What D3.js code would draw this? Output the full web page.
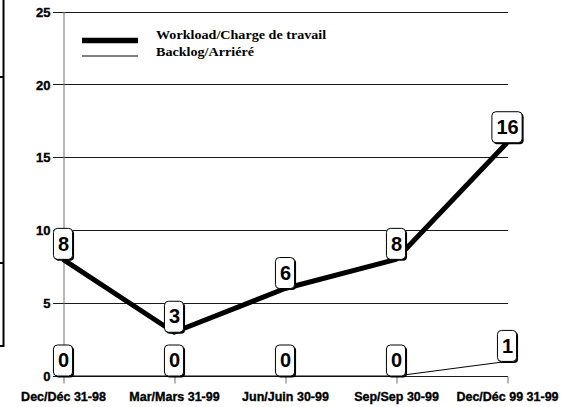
<!DOCTYPE html>
<html>
<head>
<meta charset="utf-8">
<script src="https://cdn.jsdelivr.net/npm/d3@7"></script>
<style>
  html, body { margin: 0; padding: 0; background: #fff; }
  svg { display: block; }
</style>
</head>
<body>
<svg id="chart" width="580" height="407"></svg>
<script>
// Quarter-end dates
const categories = ["Dec/Déc 31-98", "Mar/Mars 31-99", "Jun/Juin 30-99", "Sep/Sep 30-99", "Dec/Déc 99 31-99"];
// Series values
const workload = [8, 3, 6, 8, 16];
const backlog = [0, 0, 0, 0, 1];
// Y axis ticks
const yTicks = [0, 5, 10, 15, 20, 25];
const seriesNames = ["Workload/Charge de travail", "Backlog/Arriéré"];

const svg = d3.select("#chart");

const x = d3.scalePoint().domain(categories).range([63, 507]);
const y = d3.scaleLinear().domain([0, 25]).range([376, 11.5]);

// Fragment of neighbouring frame on the left edge
const edge = svg.append("g").attr("stroke", "#000").attr("fill", "none");
edge.append("path").attr("d", "M3.5,-2V346H-2").attr("stroke-width", 2);
edge.append("path").attr("d", "M0,77H3M0,263H3").attr("stroke-width", 2);

// Horizontal gridlines
svg.append("g")
  .selectAll("line")
  .data(yTicks)
  .join("line")
  .attr("x1", 53).attr("x2", 508)
  .attr("y1", d => Math.round(y(d)) + 0.5)
  .attr("y2", d => Math.round(y(d)) + 0.5)
  .attr("stroke", "#1a1a1a")
  .attr("stroke-width", 1);

// Y axis
const yAxis = svg.append("g")
  .attr("transform", "translate(63.5,0)")
  .call(d3.axisLeft(y).tickValues(yTicks).tickSize(0).tickPadding(13));
yAxis.select(".domain").attr("stroke", "#6e6e6e");
yAxis.selectAll("text")
  .attr("font-family", "Liberation Sans, Arial, sans-serif")
  .attr("font-weight", "bold")
  .attr("font-size", 13)
  .attr("fill", "#000")
  .attr("stroke", "#000")
  .attr("stroke-width", 0.35)
  .attr("dy", "0.36em");

// X axis
const xAxis = svg.append("g")
  .attr("transform", "translate(0,376.5)")
  .call(d3.axisBottom(x).tickSize(7).tickPadding(6).tickSizeOuter(0));
xAxis.select(".domain").remove();
xAxis.selectAll(".tick line").attr("stroke", "#6e6e6e").attr("transform", "translate(0.5,0)");
xAxis.selectAll("text")
  .attr("font-family", "Liberation Sans, Arial, sans-serif")
  .attr("font-weight", "bold")
  .attr("font-size", 12.5)
  .attr("fill", "#000")
  .attr("stroke", "#000")
  .attr("stroke-width", 0.35)
  .attr("dy", "0.9em");

// Lines
const line = d3.line()
  .x((d, i) => x(categories[i]))
  .y(d => y(d));

svg.append("path")
  .datum(backlog)
  .attr("d", line)
  .attr("fill", "none")
  .attr("stroke", "#000")
  .attr("stroke-width", 1);

svg.append("path")
  .datum(workload)
  .attr("d", line)
  .attr("fill", "none")
  .attr("stroke", "#000")
  .attr("stroke-width", 5)
  .attr("stroke-linejoin", "round")
  .attr("stroke-linecap", "butt");

// Value labels in rounded boxes sitting on each point
function drawLabels(values) {
  values.forEach((v, i) => {
    const cx = x(categories[i]);
    const by = y(v);
    const g = svg.append("g");
    const shadow = g.append("rect");
    const box = g.append("rect");
    const t = g.append("text")
      .attr("x", cx + 0.5)
      .attr("y", by - 16)
      .attr("text-anchor", "middle")
      .attr("dy", "0.36em")
      .attr("font-family", "Liberation Sans, Arial, sans-serif")
      .attr("font-weight", "bold")
      .attr("font-size", 20)
      .attr("fill", "#000")
      .text(v);
    const w = t.node().getComputedTextLength() + 8;
    const h = 31;
    const bx = cx - w / 2;
    const byTop = by - h;
    shadow.attr("x", bx + 1.5).attr("y", byTop + 1.5).attr("width", w).attr("height", h)
      .attr("rx", 4).attr("fill", "#000");
    box.attr("x", bx).attr("y", byTop).attr("width", w).attr("height", h)
      .attr("rx", 4).attr("fill", "#fff").attr("stroke", "#000").attr("stroke-width", 1);
  });
}
drawLabels(workload);
drawLabels(backlog);

// Legend
const legend = svg.append("g");
const legendY = [40.5, 56];
const legendBaseline = [38.5, 56];
const legendW = [5.5, 1];
seriesNames.forEach((name, i) => {
  legend.append("line")
    .attr("x1", 82).attr("x2", 138)
    .attr("y1", legendY[i]).attr("y2", legendY[i])
    .attr("stroke", "#000")
    .attr("stroke-width", legendW[i]);
  legend.append("text")
    .attr("transform", `translate(156,${legendBaseline[i]}) scale(1.13,1)`)
    .attr("font-family", "Liberation Serif, Times New Roman, serif")
    .attr("font-weight", "bold")
    .attr("font-size", 12.5)
    .attr("fill", "#000")
    .text(name);
});
</script>
</body>
</html>
